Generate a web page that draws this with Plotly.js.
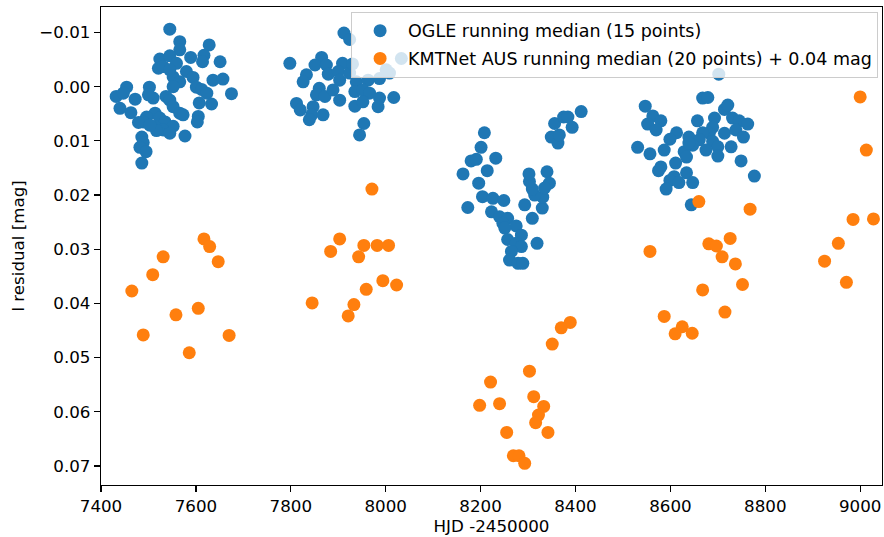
<!DOCTYPE html>
<html>
<head>
<meta charset="utf-8">
<script src="https://cdn.plot.ly/plotly-3.0.1.min.js"></script>
<style>html,body{margin:0;padding:0;background:#fff;}#chart{width:884px;height:537px;}</style>
</head>
<body>
<div id="chart"></div>
<script>
// OGLE running median (15 points)
var ogleX = [7545,7566,7566,7628,7617,7614,7651,7524,7545,7521,7531,7559,7589,7580,7594,7552,7545,7566,7552,7636,7657,7675,7601,7612,7623,7633,7607,7502,7510,7500,7537,7545,7552,7566,7573,7454,7432,7447,7472,7440,7463,7514,7496,7489,7524,7535,7552,7514,7531,7545,7517,7605,7603,7577,7486,7489,7482,7495,7486,7479,7503,
  7798,7865,7851,7833,7826,7875,7879,7909,7900,7903,7860,7854,7872,7889,7903,7924,7938,7963,7935,7952,7966,7987,8008,7987,7984,8017,7935,7952,7812,7820,7847,7844,7839,7868,7954,7945,7912,7924,7930,8001,8033,
  8208,8201,8180,8191,8232,8163,8214,8196,8204,8226,8249,8173,8223,8240,8257,8247,8275,8251,8286,8257,8275,8286,8265,8261,8279,8289,8319,8309,8293,8330,8331,8314,8309,8303,8302,8340,8345,8335,8349,8363,8366,8356,8375,8384,8393,8412,
  8702,8668,8679,8547,8563,8552,8580,8570,8613,8599,8639,8657,8693,8714,8721,8731,8745,8763,8689,8682,8668,8661,8647,8689,8700,8714,8728,8738,8754,8531,8557,8587,8629,8675,8700,8749,8611,8634,8580,8575,8608,8634,8599,8618,8647,8591,8777,8644,8639];
var ogleY = [-0.0106,-0.0083,-0.0068,-0.0077,-0.0058,-0.0046,-0.0046,-0.0051,-0.0057,-0.0034,-0.0037,-0.0043,-0.0054,-0.0028,-0.0017,-0.0018,-0.0031,-0.0009,0.0000,-0.0012,-0.0014,0.0013,0.0001,0.0005,0.0012,0.0032,0.0030,0.0001,0.0021,0.0015,0.0018,0.0025,0.0037,0.0049,0.0052,0.0001,0.0018,0.0012,0.0023,0.0040,0.0048,0.0049,0.0056,0.0065,0.0058,0.0065,0.0073,0.0074,0.0080,0.0086,0.0081,0.0055,0.0065,0.0091,0.0093,0.0103,0.0112,0.0120,0.0141,0.0066,0.0071,
  -0.0043,-0.0054,-0.0040,-0.0022,-0.0009,-0.0040,-0.0023,-0.0043,-0.0028,-0.0012,0.0003,0.0015,0.0018,0.0006,0.0025,-0.0025,-0.0009,-0.0012,0.0009,0.0006,0.0012,-0.0015,-0.0025,0.0021,0.0037,0.0020,0.0036,0.0028,0.0031,0.0043,0.0037,0.0052,0.0061,0.0052,0.0068,0.0089,-0.0099,-0.0087,-0.0042,-0.0031,-0.0052,
  0.0085,0.0112,0.0137,0.0134,0.0132,0.0161,0.0155,0.0178,0.0203,0.0206,0.0210,0.0223,0.0231,0.0240,0.0243,0.0252,0.0257,0.0261,0.0274,0.0282,0.0289,0.0295,0.0304,0.0320,0.0326,0.0326,0.0289,0.0243,0.0218,0.0224,0.0204,0.0200,0.0189,0.0175,0.0161,0.0157,0.0178,0.0187,0.0093,0.0104,0.0089,0.0068,0.0056,0.0056,0.0075,0.0046,
  -0.0023,0.0021,0.0020,0.0036,0.0054,0.0069,0.0063,0.0080,0.0085,0.0097,0.0093,0.0063,0.0058,0.0042,0.0034,0.0058,0.0063,0.0069,0.0075,0.0086,0.0085,0.0098,0.0108,0.0101,0.0111,0.0086,0.0111,0.0080,0.0093,0.0112,0.0124,0.0117,0.0120,0.0117,0.0128,0.0137,0.0141,0.0130,0.0148,0.0155,0.0166,0.0159,0.0173,0.0177,0.0177,0.0189,0.0165,0.0218,0.0104];

// KMTNet AUS running median (20 points) + 0.04 mag
var kmtX = [7617,7629,7531,7647,7509,7465,7605,7558,7489,7670,7586,
  7971,7903,7884,7954,7982,8006,7943,7994,8023,7959,7845,7933,7921,
  8389,8370,8351,8303,8221,8198,8240,8312,8333,8322,8316,8342,8255,8269,8281,8293,
  8660,8768,8985,9028,8681,8697,8726,8954,8557,8709,8737,8925,8971,8752,8668,8587,8715,8625,8610,8646,9000,9013];
var kmtY = [0.0281,0.0295,0.0314,0.0323,0.0347,0.0377,0.0409,0.0421,0.0458,0.0459,0.0491,
  0.0189,0.0281,0.0304,0.0293,0.0293,0.0293,0.0314,0.0358,0.0366,0.0374,0.0399,0.0402,0.0423,
  0.0435,0.0445,0.0475,0.0525,0.0545,0.0588,0.0585,0.0572,0.0590,0.0606,0.0620,0.0638,0.0638,0.0681,0.0681,0.0695,
  0.0212,0.0226,0.0245,0.0244,0.0290,0.0294,0.0280,0.0289,0.0304,0.0314,0.0327,0.0322,0.0361,0.0365,0.0375,0.0424,0.0416,0.0443,0.0456,0.0455,0.0019,0.0117];

var seriesNames = ["OGLE running median (15 points)", "KMTNet AUS running median (20 points) + 0.04 mag"];
var xTicks = [7400,7600,7800,8000,8200,8400,8600,8800,9000];
var yTicks = [-0.01,0.00,0.01,0.02,0.03,0.04,0.05,0.06,0.07];
var xLabel = "HJD -2450000";
var yLabel = "I residual [mag]";

var FONT = "DejaVu Sans, sans-serif";
var traces = [
  {x: ogleX, y: ogleY, type: "scatter", mode: "markers", name: seriesNames[0], legendgroup: "a",
   marker: {color: "#1f77b4", size: 13, line: {width: 0}}},
  {x: kmtX, y: kmtY, type: "scatter", mode: "markers", name: seriesNames[1], legendgroup: "b",
   marker: {color: "#ff7f0e", size: 13, line: {width: 0}}}
];
var axisCommon = {
  showgrid: false, zeroline: false, showline: true, mirror: true,
  linecolor: "#000", linewidth: 1.2, ticks: "outside", ticklen: 6, tickwidth: 1.2,
  tickcolor: "#000", tickfont: {family: FONT, size: 16.7, color: "#000"}
};
var layout = {
  width: 884, height: 537,
  margin: {l: 101, r: 2, t: 7, b: 52},
  paper_bgcolor: "#fff", plot_bgcolor: "#fff",
  font: {family: FONT, size: 16.7, color: "#000"},
  xaxis: Object.assign({}, axisCommon, {
    range: [7400, 9046], tickvals: xTicks, ticktext: xTicks.map(String),
    title: {text: xLabel, font: {family: FONT, size: 16.7, color: "#000"}, standoff: 5}
  }),
  yaxis: Object.assign({}, axisCommon, {
    range: [0.0735, -0.0147], tickvals: yTicks, tickformat: ".2f",
    title: {text: yLabel, font: {family: FONT, size: 16.7, color: "#000"}, standoff: 10}
  }),
  showlegend: true,
  legend: {
    x: 0.995, y: 0.99, xanchor: "right", yanchor: "top",
    bgcolor: "rgba(255,255,255,0.8)", bordercolor: "#cccccc", borderwidth: 1,
    itemwidth: 46, tracegroupgap: 2,
    font: {family: FONT, size: 17.5, color: "#000"}
  }
};
Plotly.newPlot("chart", traces, layout, {staticPlot: true, displayModeBar: false});
</script>
</body>
</html>
